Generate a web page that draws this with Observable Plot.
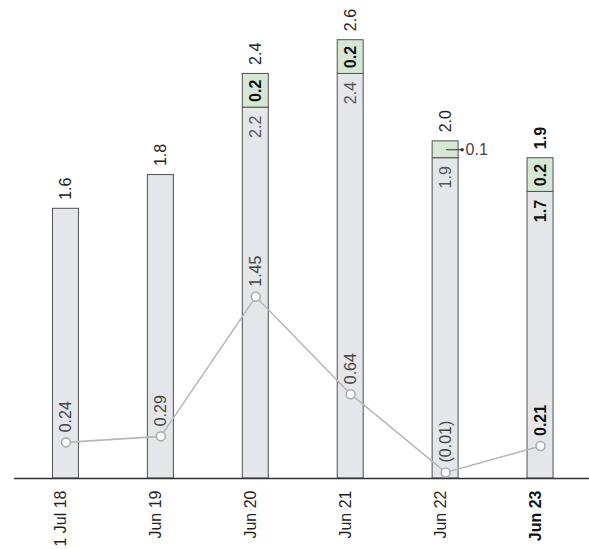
<!DOCTYPE html>
<html>
<head>
<meta charset="utf-8">
<script src="https://cdn.jsdelivr.net/npm/d3@7"></script>
<script src="https://cdn.jsdelivr.net/npm/@observablehq/plot@0.6"></script>
<style>
  html, body { margin: 0; padding: 0; background: #fff; }
  #chart svg { display: block; }
</style>
</head>
<body>
<div id="chart"></div>
<script>
// Periods shown along the bottom
const periods = ["1 Jul 18", "Jun 19", "Jun 20", "Jun 21", "Jun 22", "Jun 23"];
// Grey base segment of each bar
const baseValues = [1.6, 1.8, 2.2, 2.4, 1.9, 1.7];
// Green top-up segment stacked on the base
const extraValues = [0, 0, 0.2, 0.2, 0.1, 0.2];
// Bar totals written above each bar
const totalValues = [1.6, 1.8, 2.4, 2.6, 2.0, 1.9];
// Line series (secondary measure) and its printed labels
const lineValues = [0.24, 0.29, 1.45, 0.64, -0.01, 0.21];
const lineLabels = ["0.24", "0.29", "1.45", "0.64", "(0.01)", "0.21"];
// The latest period is emphasised in bold
const highlight = "Jun 23";

// The line uses its own scale, expressed in bar units: offset + factor * value
const lineOffset = 0.043;
const lineFactor = 0.714;

const rows = periods.map((p, i) => ({
  period: p,
  base: baseValues[i],
  extra: extraValues[i],
  total: totalValues[i],
  line: lineValues[i],
  lineLabel: lineLabels[i],
  lineY: lineOffset + lineFactor * lineValues[i],
  bold: p === highlight
}));
const stacked = rows.filter(d => d.extra > 0);
const smallExtra = stacked.filter(d => d.extra < 0.15);
const bigExtra = stacked.filter(d => d.extra >= 0.15);

const font = "'Liberation Sans', Arial, Helvetica, sans-serif";
const fs = 16;

// Text in two passes: regular for most periods, bold for the highlighted one
function labels(data, options, normalFill = "#333", boldFill = "#111") {
  return [
    Plot.text(data.filter(d => !d.bold), { ...options, fill: normalFill, fontWeight: "normal", fontSize: fs }),
    Plot.text(data.filter(d => d.bold), { ...options, fill: boldFill, fontWeight: "bold", fontSize: fs })
  ];
}

const chart = Plot.plot({
  width: 589,
  height: 549,
  marginLeft: 18,
  marginRight: 1.5,
  marginTop: 6,
  marginBottom: 71,
  style: { fontFamily: font, fontSize: fs + "px", background: "#fff", overflow: "visible" },
  x: { domain: periods, type: "band", paddingInner: 0.7263, paddingOuter: 0.3632, round: false, axis: null },
  y: { domain: [0, 2.8], axis: null },
  marks: [
    // grey base segments
    Plot.barY(rows, { x: "period", y1: 0, y2: "base", fill: "#e4e6e9", stroke: "#505050", strokeWidth: 1 }),
    // green top segments
    Plot.barY(stacked, { x: "period", y1: "base", y2: d => d.base + d.extra, fill: "#d6e8d5", stroke: "#505050", strokeWidth: 1 }),
    // baseline
    Plot.ruleY([0], { stroke: "#333", strokeWidth: 1.6, insetLeft: -4, insetRight: -2 }),
    // totals above bars
    labels(rows, {
      x: "period", y: "total", text: d => d.total.toFixed(1), rotate: -90,
      textAnchor: "start", dy: -9
    }, "#222"),
    // base segment values (only where a top segment exists)
    labels(stacked, {
      x: "period", y: "base", text: d => d.base.toFixed(1), rotate: -90,
      textAnchor: "end", dy: 8
    }, "#555"),
    // top segment values inside the green block
    Plot.text(bigExtra, {
      x: "period", y: d => d.base + d.extra / 2, text: d => d.extra.toFixed(1), rotate: -90,
      textAnchor: "middle", fill: "#111", fontWeight: "bold", fontSize: fs
    }),
    // thin top segment: value with a pointer outside the bar
    Plot.ruleY(smallExtra, {
      y: d => d.base + d.extra / 2, x1: "period", x2: "period",
      stroke: "#333", strokeWidth: 1, insetLeft: 14, insetRight: -3.5
    }),
    Plot.dot(smallExtra, {
      x: "period", y: d => d.base + d.extra / 2, dx: 16.5, r: 1.8, fill: "#333", stroke: "none"
    }),
    Plot.text(smallExtra, {
      x: "period", y: d => d.base + d.extra / 2, text: d => d.extra.toFixed(1),
      textAnchor: "start", dx: 20, fill: "#444", fontSize: fs
    }),
    // secondary line
    Plot.line(rows, { x: "period", y: "lineY", stroke: "#b4b9bd", strokeWidth: 1.6 }),
    Plot.dot(rows, { x: "period", y: "lineY", r: 4.5, fill: "#fff", stroke: "#a8adb2", strokeWidth: 1.6 }),
    labels(rows, {
      x: "period", y: "lineY", text: "lineLabel", rotate: -90,
      textAnchor: "start", dy: -10
    }, "#444"),
    // period labels under the axis
    labels(rows, {
      x: "period", frameAnchor: "bottom", text: "period", rotate: -90,
      textAnchor: "end", dy: 12
    }, "#222")
  ]
});

document.getElementById("chart").appendChild(chart);
</script>
</body>
</html>
